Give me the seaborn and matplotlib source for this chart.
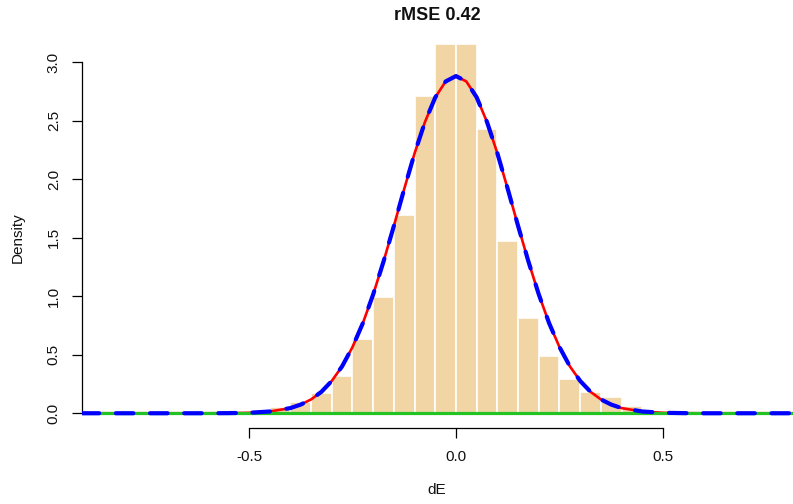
import numpy as np
import pandas as pd
import matplotlib
matplotlib.use("Agg")
import matplotlib.pyplot as plt
import seaborn as sns

# ---- data ----
bin_edges = [-0.50, -0.45, -0.40, -0.35, -0.30, -0.25, -0.20, -0.15, -0.10, -0.05,
             0.00, 0.05, 0.10, 0.15, 0.20, 0.25, 0.30, 0.35, 0.40, 0.45]
bin_heights = [0.03, 0.05, 0.10, 0.17, 0.32, 0.63, 0.99, 1.69, 2.71, 3.15,
               3.15, 2.43, 1.47, 0.81, 0.49, 0.29, 0.18, 0.14, 0.06]

curve_x = [-0.904, -0.70, -0.60, -0.55, -0.50, -0.45, -0.40, -0.375, -0.35, -0.325,
           -0.30, -0.275, -0.25, -0.225, -0.20, -0.175, -0.15, -0.125, -0.10,
           -0.075, -0.05, -0.025, 0.0, 0.025, 0.05, 0.075, 0.10, 0.125, 0.15,
           0.175, 0.20, 0.225, 0.25, 0.275, 0.30, 0.325, 0.35, 0.375, 0.40,
           0.45, 0.50, 0.55, 0.60, 0.70, 0.814]
fit_red = [0.0, 0.0, 0.0, 0.001, 0.004, 0.015, 0.044, 0.074, 0.118, 0.183,
           0.276, 0.401, 0.565, 0.769, 1.015, 1.296, 1.60, 1.916, 2.22,
           2.487, 2.698, 2.834, 2.88, 2.834, 2.698, 2.487, 2.22, 1.916, 1.60,
           1.296, 1.015, 0.769, 0.565, 0.401, 0.276, 0.183, 0.118, 0.074, 0.044,
           0.015, 0.004, 0.001, 0.0, 0.0, 0.0]
fit_blue = list(fit_red)
baseline_x = [-0.904, 0.814]
baseline_y = [0.0, 0.0]

title_text = "rMSE 0.42"
x_label = "dE"
y_label = "Density"
x_ticks = [-0.5, 0.0, 0.5]
x_ticklabels = ["-0.5", "0.0", "0.5"]
y_ticks = [0.0, 0.5, 1.0, 1.5, 2.0, 2.5, 3.0]
y_ticklabels = ["0.0", "0.5", "1.0", "1.5", "2.0", "2.5", "3.0"]

# ---- plotting ----
sns.set_style("white")
plt.rcParams["font.family"] = ["Liberation Sans", "DejaVu Sans"]

W, H = 793, 504
fig = plt.figure(figsize=(W / 100, H / 100), dpi=100)
left, right, bottom, top = 81.7, 793, 428, 29.7
ax = fig.add_axes([left / W, 1 - bottom / H, (right - left) / W, (bottom - top) / H])

centers = [(bin_edges[i] + bin_edges[i + 1]) / 2 for i in range(len(bin_heights))]
hist_df = pd.DataFrame({"x": centers, "w": bin_heights})
sns.histplot(data=hist_df, x="x", weights="w", bins=bin_edges, stat="count",
             color="#F1D5A5", alpha=1.0, edgecolor="white", linewidth=1.2, ax=ax)

sns.lineplot(x=curve_x, y=fit_red, color="#FF0000", linewidth=1.9, ax=ax,
             sort=False, zorder=3)
sns.lineplot(x=baseline_x, y=baseline_y, color="#22C322", linewidth=2.3, ax=ax,
             sort=False, zorder=4)
sns.lineplot(x=curve_x, y=fit_blue, color="#0000FF", linewidth=3.0, ax=ax,
             sort=False, zorder=5)
line = ax.lines[-1]
line.set_dashes((4.2, 4.0))
line.set_dash_capstyle("round")

ax.set_xlim(-0.904, 0.814)
ax.set_ylim(-0.126, 3.276)

for s in ["top", "right"]:
    ax.spines[s].set_visible(False)
ax.spines["left"].set_bounds(0, 3)
ax.spines["bottom"].set_bounds(-0.5, 0.5)
for s in ["left", "bottom"]:
    ax.spines[s].set_color("black")
    ax.spines[s].set_linewidth(0.9)

ax.set_xticks(x_ticks)
ax.set_xticklabels(x_ticklabels)
ax.set_yticks(y_ticks)
ax.set_yticklabels(y_ticklabels, rotation=90, va="center")
ax.tick_params(axis="both", direction="out", length=7, width=0.9, color="black",
               labelsize=11, labelcolor="#111111", bottom=True, left=True)
ax.tick_params(axis="x", pad=8.5)
ax.tick_params(axis="y", pad=8)
ax.set_xlabel("")
ax.set_ylabel("")

fig.text(437 / W, 1 - 15 / H, title_text, ha="center", va="center",
         fontsize=13, fontweight="bold", color="#111111")
fig.text(437 / W, 1 - 490 / H, x_label, ha="center", va="center",
         fontsize=11, color="#111111")
fig.text(18 / W, 1 - 238 / H, y_label, ha="center", va="center",
         fontsize=11, rotation=90, color="#111111")

fig.savefig("out.png", dpi=100)
